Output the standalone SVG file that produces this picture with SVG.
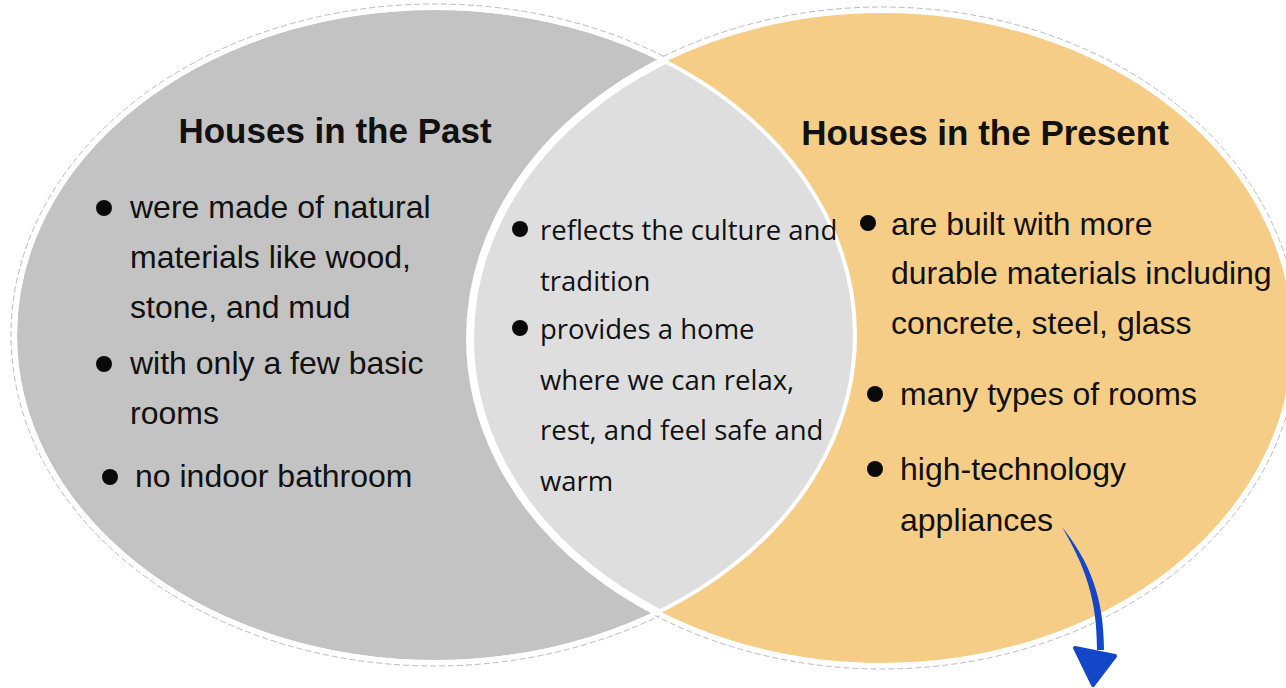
<svg xmlns="http://www.w3.org/2000/svg" width="1286" height="688" viewBox="0 0 1286 688">
<style>
.title{font-family:"Liberation Sans",Arial,sans-serif;font-weight:bold;font-size:35px;fill:#111}
.side{font-family:"Liberation Sans",Arial,sans-serif;font-size:32px;fill:#111}
.mid{font-family:"Open Sans","Noto Sans",sans-serif;font-size:27.5px;fill:#111}
.dot{fill:#0a0a0a}
.halo{fill:none;stroke:#bbb;stroke-width:1;stroke-dasharray:6 3}
</style>
<defs>
<clipPath id="clipL"><ellipse cx="435" cy="335" rx="420" ry="327"/></clipPath>
</defs>
<g id="past">
<ellipse cx="435" cy="335" rx="424" ry="331" class="halo"/>
<ellipse cx="435" cy="335" rx="420" ry="327" fill="#c3c3c3" stroke="#fff" stroke-width="4"/>
</g>
<g id="present">
<ellipse cx="882" cy="338" rx="416" ry="331" class="halo"/>
<ellipse cx="882" cy="338" rx="412" ry="327" fill="#f6cd86" stroke="#fff" stroke-width="4"/>
</g>
<g id="common">
<ellipse cx="882" cy="338" rx="412" ry="327" clip-path="url(#clipL)" fill="#dedede" stroke="#fff" stroke-width="8"/>
<ellipse cx="435" cy="335" rx="420" ry="327" fill="none" stroke="#fff" stroke-width="4"/>
</g>
<g id="past-text">
<text class="title" x="335" y="143" text-anchor="middle">Houses in the Past</text>
<circle class="dot" cx="104" cy="208" r="8"/>
<text class="side" x="130" y="218">were made of natural</text>
<text class="side" x="130" y="268">materials like wood,</text>
<text class="side" x="130" y="318">stone, and mud</text>
<circle class="dot" cx="104" cy="364" r="8"/>
<text class="side" x="130" y="374">with only a few basic</text>
<text class="side" x="130" y="424">rooms</text>
<circle class="dot" cx="110" cy="477" r="8"/>
<text class="side" x="135" y="487">no indoor bathroom</text>
</g>
<g id="common-text">
<circle class="dot" cx="520" cy="229" r="8"/>
<text class="mid" x="540" y="240">reflects the culture and</text>
<text class="mid" x="540" y="291">tradition</text>
<circle class="dot" cx="520" cy="328" r="8"/>
<text class="mid" x="540" y="339">provides a home</text>
<text class="mid" x="540" y="390">where we can relax,</text>
<text class="mid" x="540" y="440">rest, and feel safe and</text>
<text class="mid" x="540" y="491">warm</text>
</g>
<g id="present-text">
<text class="title" x="985" y="145" text-anchor="middle">Houses in the Present</text>
<circle class="dot" cx="868" cy="223" r="8"/>
<text class="side" x="891" y="235">are built with more</text>
<text class="side" x="891" y="284">durable materials including</text>
<text class="side" x="891" y="334">concrete, steel, glass</text>
<circle class="dot" cx="875" cy="394" r="8"/>
<text class="side" x="900" y="405">many types of rooms</text>
<circle class="dot" cx="875" cy="469" r="8"/>
<text class="side" x="900" y="480">high-technology</text>
<text class="side" x="900" y="531">appliances</text>
</g>
<g id="connectors">
<path d="M1062,527 C1086,568 1097,600 1097,650 L1104,650 C1104,598 1090,562 1062,527 Z" fill="#1446c8"/>
<path d="M1075,648 L1115,656 L1093,685 Z" fill="#1446c8" stroke="#1446c8" stroke-width="4" stroke-linejoin="round"/>
</g>
</svg>
